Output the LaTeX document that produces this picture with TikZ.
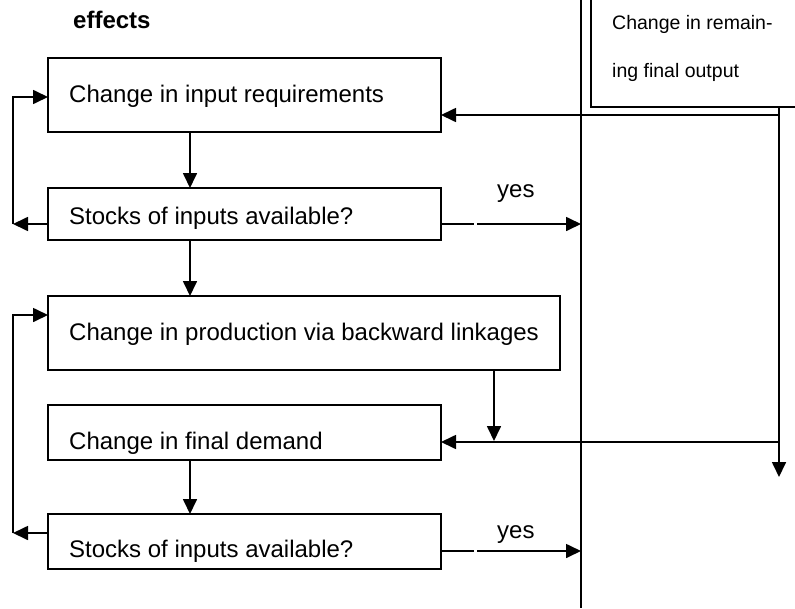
\documentclass[tikz,border=0pt]{standalone}
\usepackage{fontspec}
\setmainfont{Liberation Sans}
\usetikzlibrary{arrows.meta}
\begin{document}
\begin{tikzpicture}[x=1pt,y=-1pt,
  box/.style={draw, line width=2.5pt, inner sep=0pt, outer sep=0pt},
  txt/.style={anchor=base west, inner sep=0pt, font=\fontsize{24}{28}\selectfont},
  smalltxt/.style={anchor=base west, inner sep=0pt, font=\fontsize{19.5}{24}\selectfont},
  conn/.style={line width=1.7pt},
  arr/.style={conn, -{Triangle[length=15pt,width=14pt]}},
  yesarr/.style={arr, dash pattern=on 33pt off 3pt on 400pt off 0pt}]
\useasboundingbox (0,0) rectangle (795,608);

% boxes of the left column
\node[box, minimum width=393pt, minimum height=74pt, anchor=north west] (req)  at (48,58)  {};
\node[box, minimum width=393pt, minimum height=52pt, anchor=north west] (st1)  at (48,188) {};
\node[box, minimum width=512pt, minimum height=74pt, anchor=north west] (prod) at (48,296) {};
\node[box, minimum width=393pt, minimum height=55pt, anchor=north west] (fd)   at (48,405) {};
\node[box, minimum width=393pt, minimum height=55pt, anchor=north west] (st2)  at (48,514) {};
% box at the top right, running past the page edges
\node[box, minimum width=230pt, minimum height=140pt, anchor=south west] (rem) at (591,107) {};

% texts
\node[anchor=base west, inner sep=0pt, font=\bfseries\fontsize{24}{28}\selectfont] (eff) at (73,28) {effects};
\node[txt] (treq)  at (69,102) {Change in input requirements};
\node[txt] (tst1)  at (69,224) {Stocks of inputs available?};
\node[txt] (tprod) at (69,340) {Change in production via backward linkages};
\node[txt] (tfd)   at (69,449) {Change in final demand};
\node[txt] (tst2)  at (69,557) {Stocks of inputs available?};
\node[smalltxt] (trem1) at (612,29) {Change in remain-};
\node[smalltxt] (trem2) at (612,77) {ing final output};
\node[txt] (yes1) at (497,197) {yes};
\node[txt] (yes2) at (497,538) {yes};

% separator line
\coordinate (septop) at (581,0);
\coordinate (sepbot) at (581,608);
\draw[line width=2pt] (septop) -- (sepbot);

% downward flow
\draw[arr] (req.south -| 190,0) -- (st1.north -| 190,0);
\draw[arr] (st1.south -| 190,0) -- (prod.north -| 190,0);
\draw[arr] (fd.south -| 190,0) -- (st2.north -| 190,0);

% feedback loops on the left
\coordinate (l1) at (13,224);
\coordinate (l2) at (13,533);
\draw[arr] (st1.west |- l1) -- (l1);
\draw[arr] (l1) |- (req.west |- 0,97);
\draw[arr] (st2.west |- l2) -- (l2);
\draw[arr] (l2) |- (prod.west |- 0,315);

% "yes" exits to the separator
\draw[yesarr] (st1.east |- 0,224) -- (septop |- 0,224);
\draw[yesarr] (st2.east |- 0,551) -- (septop |- 0,551);

% remaining final output feeding back
\coordinate (r1) at (779,115);
\coordinate (r2) at (779,442);
\coordinate (rend) at (779,477);
\draw[conn] (rem.south -| r1) -- (r1);
\draw[arr] (r1) -- (req.east |- r1);
\draw[arr] (r1) -- (rend);
\draw[arr] (r2) -- (fd.east |- r2);

% backward linkages joining final demand line
\coordinate (bl) at (494,441);
\draw[arr] (prod.south -| bl) -- (bl);
\end{tikzpicture}
\end{document}
